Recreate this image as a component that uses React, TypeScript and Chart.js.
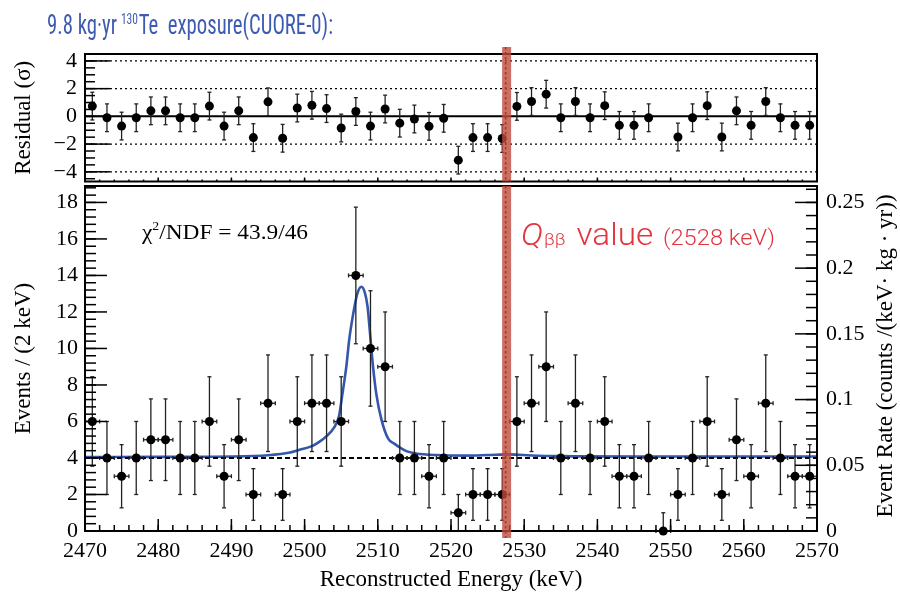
import React, { useEffect, useRef } from 'react';
import { Chart, registerables } from 'chart.js';

Chart.register(...registerables);

// ---------------- data ----------------
const binCenters = [
  2471, 2473, 2475, 2477, 2479, 2481, 2483, 2485, 2487, 2489,
  2491, 2493, 2495, 2497, 2499, 2501, 2503, 2505, 2507, 2509,
  2511, 2513, 2515, 2517, 2519, 2521, 2523, 2525, 2527, 2529,
  2531, 2533, 2535, 2537, 2539, 2541, 2543, 2545, 2547, 2549,
  2551, 2553, 2555, 2557, 2559, 2561, 2563, 2565, 2567, 2569,
];
const counts = [
  6, 4, 3, 4, 5, 5, 4, 4, 6, 3,
  5, 2, 7, 2, 6, 7, 7, 6, 14, 10,
  9, 4, 4, 3, 4, 1, 2, 2, 2, 6,
  7, 9, 4, 7, 4, 6, 3, 3, 4, 0,
  2, 4, 6, 2, 5, 3, 7, 4, 3, 3,
];
const residuals: (number | null)[] = [
  0.74, -0.1, -0.7, -0.1, 0.4, 0.4, -0.1, -0.1, 0.74, -0.7,
  0.4, -1.53, 1.05, -1.58, 0.6, 0.8, 0.56, -0.84, 0.35, -0.7,
  0.53, -0.49, -0.19, -0.72, -0.14, -3.16, -1.53, -1.53, -1.6, 0.72,
  1.07, 1.6, -0.1, 1.07, -0.1, 0.77, -0.65, -0.65, -0.1, null,
  -1.49, -0.1, 0.77, -1.49, 0.4, -0.65, 1.07, -0.1, -0.65, -0.65,
];
const residualError = 1;
const binHalfWidth = 1;

const fitEnergy = [
  2470, 2480, 2490, 2495, 2498, 2499.3, 2501, 2502, 2503, 2504,
  2504.7, 2505.2, 2505.7, 2506.1, 2506.6, 2507.2, 2507.75, 2508.2, 2508.6, 2508.9,
  2509.3, 2509.8, 2510.5, 2511.4, 2512.2, 2513, 2514, 2515.2, 2518, 2522,
  2525, 2528, 2531, 2535, 2545, 2570,
];
const fitEvents = [
  4.05, 4.06, 4.08, 4.15, 4.3, 4.45, 4.65, 4.88, 5.2, 5.65,
  6.3, 7.6, 9.0, 10.5, 11.8, 13.0, 13.38, 13.1, 12.3, 11.0,
  9.2, 7.5, 6.1, 5.07, 4.8, 4.58, 4.36, 4.25, 4.16, 4.13,
  4.16, 4.2, 4.14, 4.1, 4.08, 4.08,
];
const bkgEnergy = [2470, 2570];
const bkgEvents = [4.0, 4.0];

const qBandEnergy = 2527.6;
const eventsPerRate = 72;

const xTickValues = [2470, 2480, 2490, 2500, 2510, 2520, 2530, 2540, 2550, 2560, 2570];
const eventTickValues = [0, 2, 4, 6, 8, 10, 12, 14, 16, 18];
const rateTickValues = [0, 0.05, 0.1, 0.15, 0.2, 0.25];
const residualTickValues = [-4, -2, 0, 2, 4];

const X_MIN = 2470;
const X_MAX = 2570;
const Y_MAX = 18.9;
const RES_MIN = -4.7;
const RES_MAX = 4.5;

// ---------------- styling helpers ----------------
const SERIF = '"Liberation Serif", "Times New Roman", serif';
const SANS = 'Roboto, "Liberation Sans", Arial, sans-serif';
const NARROW = '"Liberation Sans Narrow", "Roboto Condensed", Roboto, "Liberation Sans", sans-serif';
const MAIN_TOP = 180; // page y of main canvas

function range(a: number, b: number, step: number) {
  const out: number[] = [];
  for (let v = a; v <= b + 1e-9; v += step) out.push(Math.round(v * 10000) / 10000);
  return out;
}

const fixW = (w: number) => (s: any) => {
  s.width = w;
  s.paddingTop = 0; s.paddingBottom = 0; s.paddingLeft = 0; s.paddingRight = 0;
};
const fixH = (h: number) => (s: any) => {
  s.height = h;
  s.paddingTop = 0; s.paddingBottom = 0; s.paddingLeft = 0; s.paddingRight = 0;
};
const setTicks = (vals: number[]) => (s: any) => {
  s.ticks = vals.map((value) => ({ value }));
};
const fmtSigned = (v: any) => (v < 0 ? '\u2212' + Math.abs(v) : String(v));

function line(ctx: CanvasRenderingContext2D, x0: number, y0: number, x1: number, y1: number) {
  ctx.beginPath();
  ctx.moveTo(x0, y0);
  ctx.lineTo(x1, y1);
  ctx.stroke();
}

function yTicks(ctx: CanvasRenderingContext2D, area: any, scale: any, values: number[], len: number, side: 'left' | 'right', lo: number, hi: number) {
  values.forEach((v) => {
    if (v < lo - 1e-9 || v > hi + 1e-9) return;
    const y = scale.getPixelForValue(v);
    if (side === 'left') line(ctx, area.left, y, area.left + len, y);
    else line(ctx, area.right, y, area.right - len, y);
  });
}
function xTicks(ctx: CanvasRenderingContext2D, area: any, scale: any, values: number[], len: number) {
  values.forEach((v) => {
    const x = scale.getPixelForValue(v);
    line(ctx, x, area.bottom, x, area.bottom - len);
  });
}

type Part = { text: string; font: string; dy?: number; gap?: number };
function drawParts(ctx: CanvasRenderingContext2D, x: number, y: number, parts: Part[], color: string, targetWidth?: number) {
  let w = 0;
  parts.forEach((p) => {
    ctx.font = p.font;
    w += ctx.measureText(p.text).width + (p.gap || 0);
  });
  const sx = targetWidth ? targetWidth / w : 1;
  ctx.save();
  ctx.translate(x, y);
  ctx.scale(sx, 1);
  ctx.fillStyle = color;
  ctx.textAlign = 'left';
  ctx.textBaseline = 'alphabetic';
  let cx = 0;
  parts.forEach((p) => {
    ctx.font = p.font;
    ctx.fillText(p.text, cx, p.dy || 0);
    cx += ctx.measureText(p.text).width + (p.gap || 0);
  });
  ctx.restore();
}

function drawQBand(ctx: CanvasRenderingContext2D, xScale: any, top: number, bottom: number) {
  const px = xScale.getPixelForValue(qBandEnergy);
  ctx.save();
  ctx.strokeStyle = '#000';
  ctx.lineWidth = 1.6;
  ctx.setLineDash([2.5, 2.5]);
  line(ctx, px - 1, top, px - 1, bottom);
  ctx.setLineDash([]);
  ctx.fillStyle = 'rgba(192,74,61,0.8)';
  ctx.fillRect(px - 4.5, top, 9, bottom - top);
  ctx.restore();
}

// ---------------- plugins ----------------
const residualDecor = {
  id: 'residualDecor',
  beforeDatasetsDraw(chart: any) {
    const { ctx, chartArea: a, scales } = chart;
    const ys = scales.y;
    ctx.save();
    ctx.strokeStyle = '#000';
    ctx.lineWidth = 1.2;
    ctx.setLineDash([2, 3]);
    [-4, -2, 2, 4].forEach((v) => {
      const y = ys.getPixelForValue(v);
      line(ctx, a.left, y, a.right, y);
    });
    ctx.setLineDash([]);
    ctx.lineWidth = 2;
    const y0 = ys.getPixelForValue(0);
    line(ctx, a.left, y0, a.right, y0);
    // error bars
    const xs = scales.x;
    ctx.lineWidth = 1.3;
    ctx.strokeStyle = '#222';
    binCenters.forEach((e, i) => {
      const r = residuals[i];
      if (r === null) return;
      const px = xs.getPixelForValue(e);
      const lo = ys.getPixelForValue(r - residualError);
      const hi = ys.getPixelForValue(r + residualError);
      line(ctx, px, lo, px, hi);
      line(ctx, px - 2, lo, px + 2, lo);
      line(ctx, px - 2, hi, px + 2, hi);
    });
    ctx.restore();
  },
  afterDatasetsDraw(chart: any) {
    const { ctx, chartArea: a, scales } = chart;
    ctx.save();
    ctx.strokeStyle = '#000';
    ctx.lineWidth = 1.5;
    yTicks(ctx, a, scales.y, residualTickValues, 25, 'left', RES_MIN, RES_MAX);
    yTicks(ctx, a, scales.y, range(-4.5, 4.5, 0.5), 10, 'left', RES_MIN, RES_MAX);
    xTicks(ctx, a, scales.x, xTickValues, 4);
    xTicks(ctx, a, scales.x, range(2470, 2570, 2), 2);
    ctx.lineWidth = 2;
    ctx.strokeRect(a.left, a.top, a.right - a.left, a.bottom - a.top);
    ctx.restore();
  },
  afterDraw(chart: any) {
    const { ctx, chartArea: a, scales } = chart;
    drawQBand(ctx, scales.x, a.top - 7, a.bottom);
    drawParts(
      ctx, 47, 34,
      [
        { text: '9.8 kg\u00b7yr', font: `27px ${NARROW}`, gap: 5 },
        { text: '130', font: `15px ${NARROW}`, dy: -10, gap: 1 },
        { text: 'Te  exposure(CUORE-0):', font: `27px ${NARROW}` },
      ],
      '#3d5bb0', 286,
    );
  },
};

const mainDecor = {
  id: 'mainDecor',
  beforeDatasetDraw(chart: any, args: any) {
    if (args.index !== 0) return;
    const { ctx, scales } = chart;
    const xs = scales.x, ys = scales.y;
    ctx.save();
    ctx.strokeStyle = '#222';
    ctx.lineWidth = 1.3;
    binCenters.forEach((e, i) => {
      const n = counts[i];
      const err = Math.sqrt(n);
      const px = xs.getPixelForValue(e);
      const py = ys.getPixelForValue(n);
      const lo = ys.getPixelForValue(n > 0 ? n - err : 0);
      const hi = ys.getPixelForValue(n > 0 ? n + err : 1);
      line(ctx, px, lo, px, hi);
      line(ctx, px - 2, hi, px + 2, hi);
      if (n > 0) line(ctx, px - 2, lo, px + 2, lo);
      const x0 = xs.getPixelForValue(e - binHalfWidth);
      const x1 = xs.getPixelForValue(e + binHalfWidth);
      line(ctx, x0, py, x1, py);
      line(ctx, x0, py - 2, x0, py + 2);
      line(ctx, x1, py - 2, x1, py + 2);
    });
    ctx.restore();
  },
  afterDatasetsDraw(chart: any) {
    const { ctx, chartArea: a, scales } = chart;
    ctx.save();
    ctx.strokeStyle = '#000';
    ctx.lineWidth = 1.5;
    yTicks(ctx, a, scales.y, eventTickValues, 22, 'left', 0, Y_MAX);
    yTicks(ctx, a, scales.y, range(0, Y_MAX, 0.4), 11, 'left', 0, Y_MAX);
    yTicks(ctx, a, scales.yRate, rateTickValues, 22, 'right', 0, Y_MAX / eventsPerRate);
    yTicks(ctx, a, scales.yRate, range(0, 0.26, 0.01), 11, 'right', 0, Y_MAX / eventsPerRate);
    xTicks(ctx, a, scales.x, xTickValues, 12);
    xTicks(ctx, a, scales.x, range(2470, 2570, 2), 6);
    ctx.lineWidth = 2;
    ctx.strokeRect(a.left, a.top, a.right - a.left, a.bottom - a.top);
    ctx.restore();
  },
  afterDraw(chart: any) {
    const { ctx, chartArea: a, scales } = chart;
    drawQBand(ctx, scales.x, a.top, a.bottom + 7);
    // chi2 annotation
    drawParts(
      ctx, 142, 239 - MAIN_TOP,
      [
        { text: '\u03c7', font: `22px ${SERIF}` },
        { text: '2', font: `13px ${SERIF}`, dy: -9 },
        { text: '/NDF = 43.9/46', font: `22px ${SERIF}` },
      ],
      '#000', 166,
    );
    // Q value label
    drawParts(
      ctx, 521, 245 - MAIN_TOP,
      [
        { text: 'Q', font: `italic 300 31px ${SANS}`, gap: 1 },
        { text: '\u03b2\u03b2', font: `300 17px ${SANS}`, gap: 10 },
        { text: 'value', font: `300 31px ${SANS}`, gap: 9 },
        { text: '(2528 keV)', font: `300 22px ${SANS}` },
      ],
      '#e2343f', 254,
    );
    // right axis title
    ctx.save();
    ctx.translate(886, 356 - MAIN_TOP);
    ctx.rotate(-Math.PI / 2);
    ctx.font = `23px ${SERIF}`;
    ctx.fillStyle = '#000';
    ctx.textAlign = 'center';
    ctx.textBaseline = 'middle';
    ctx.fillText('Event Rate (counts /(keV\u00b7 kg \u00b7 yr))', 0, 0);
    ctx.restore();
  },
};

const tickFont = { family: SERIF, size: 22 };
const titleFont = { family: SERIF, size: 23 };

export default function App() {
  const resRef = useRef<HTMLCanvasElement>(null);
  const mainRef = useRef<HTMLCanvasElement>(null);

  useEffect(() => {
    const resPoints = binCenters
      .map((e, i) => ({ x: e, y: residuals[i] }))
      .filter((p) => p.y !== null) as { x: number; y: number }[];

    const resChart = new Chart(resRef.current as HTMLCanvasElement, {
      type: 'scatter',
      data: {
        datasets: [
          {
            data: resPoints,
            pointRadius: 4.5,
            pointBackgroundColor: '#000',
            pointBorderWidth: 0,
            borderColor: '#000',
            clip: false as any,
          },
        ],
      },
      options: {
        animation: false,
        responsive: false,
        maintainAspectRatio: false,
        devicePixelRatio: 1,
        events: [],
        layout: { padding: { top: 54, right: 83, bottom: 0, left: 0 } },
        plugins: { legend: { display: false }, tooltip: { enabled: false } },
        scales: {
          x: { type: 'linear', min: X_MIN, max: X_MAX, display: false },
          y: {
            type: 'linear',
            min: RES_MIN,
            max: RES_MAX,
            afterFit: fixW(85),
            afterBuildTicks: setTicks(residualTickValues),
            grid: { display: false, drawTicks: false },
            border: { display: false },
            ticks: { font: tickFont, color: '#000', padding: 8, callback: fmtSigned },
            title: { display: true, text: 'Residual (\u03c3)', font: titleFont, color: '#000', padding: { top: 10, bottom: 0 } },
          },
        },
      } as any,
      plugins: [residualDecor],
    });

    const mainChart = new Chart(mainRef.current as HTMLCanvasElement, {
      type: 'scatter',
      data: {
        datasets: [
          {
            label: 'data',
            data: binCenters.map((e, i) => ({ x: e, y: counts[i] })),
            pointRadius: 4.5,
            pointBackgroundColor: '#000',
            pointBorderWidth: 0,
            borderColor: '#000',
            order: 0,
            clip: false as any,
          },
          {
            label: 'background',
            data: bkgEnergy.map((e, i) => ({ x: e, y: bkgEvents[i] })),
            showLine: true,
            pointRadius: 0,
            borderColor: '#000',
            borderWidth: 2.2,
            borderDash: [5, 3],
            order: 1,
          },
          {
            label: 'fit',
            data: fitEnergy.map((e, i) => ({ x: e, y: fitEvents[i] })),
            showLine: true,
            pointRadius: 0,
            borderColor: '#3457a9',
            borderWidth: 2.6,
            cubicInterpolationMode: 'monotone',
            order: 2,
          },
        ],
      },
      options: {
        animation: false,
        responsive: false,
        maintainAspectRatio: false,
        devicePixelRatio: 1,
        events: [],
        layout: { padding: { top: 6, right: 0, bottom: 0, left: 0 } },
        plugins: { legend: { display: false }, tooltip: { enabled: false } },
        scales: {
          x: {
            type: 'linear',
            min: X_MIN,
            max: X_MAX,
            afterFit: fixH(65),
            afterBuildTicks: setTicks(xTickValues),
            grid: { display: false, drawTicks: false },
            border: { display: false },
            ticks: { font: tickFont, color: '#000', padding: 7, maxRotation: 0, autoSkip: false, callback: (v: any) => String(v) },
            title: { display: true, text: 'Reconstructed Energy (keV)', font: titleFont, color: '#000', padding: { top: 0, bottom: 2 } },
          },
          y: {
            type: 'linear',
            position: 'left',
            min: 0,
            max: Y_MAX,
            afterFit: fixW(85),
            afterBuildTicks: setTicks(eventTickValues),
            grid: { display: false, drawTicks: false },
            border: { display: false },
            ticks: { font: tickFont, color: '#000', padding: 7 },
            title: { display: true, text: 'Events / (2 keV)', font: titleFont, color: '#000', padding: { top: 10, bottom: 0 } },
          },
          yRate: {
            type: 'linear',
            position: 'right',
            min: 0,
            max: Y_MAX / eventsPerRate,
            afterFit: fixW(83),
            afterBuildTicks: setTicks(rateTickValues),
            grid: { display: false, drawTicks: false },
            border: { display: false },
            ticks: { font: tickFont, color: '#000', padding: 9, callback: (v: any) => String(+Number(v).toFixed(2)) },
          },
        },
      } as any,
      plugins: [mainDecor],
    });

    return () => {
      resChart.destroy();
      mainChart.destroy();
    };
  }, []);

  return (
    <div style={{ position: 'absolute', left: 0, top: 0, width: 900, height: 596, background: '#fff', overflow: 'hidden' }}>
      <canvas ref={resRef} width={900} height={186} style={{ position: 'absolute', left: 0, top: 0, width: 900, height: 186 }} />
      <canvas ref={mainRef} width={900} height={416} style={{ position: 'absolute', left: 0, top: MAIN_TOP, width: 900, height: 416 }} />
    </div>
  );
}
